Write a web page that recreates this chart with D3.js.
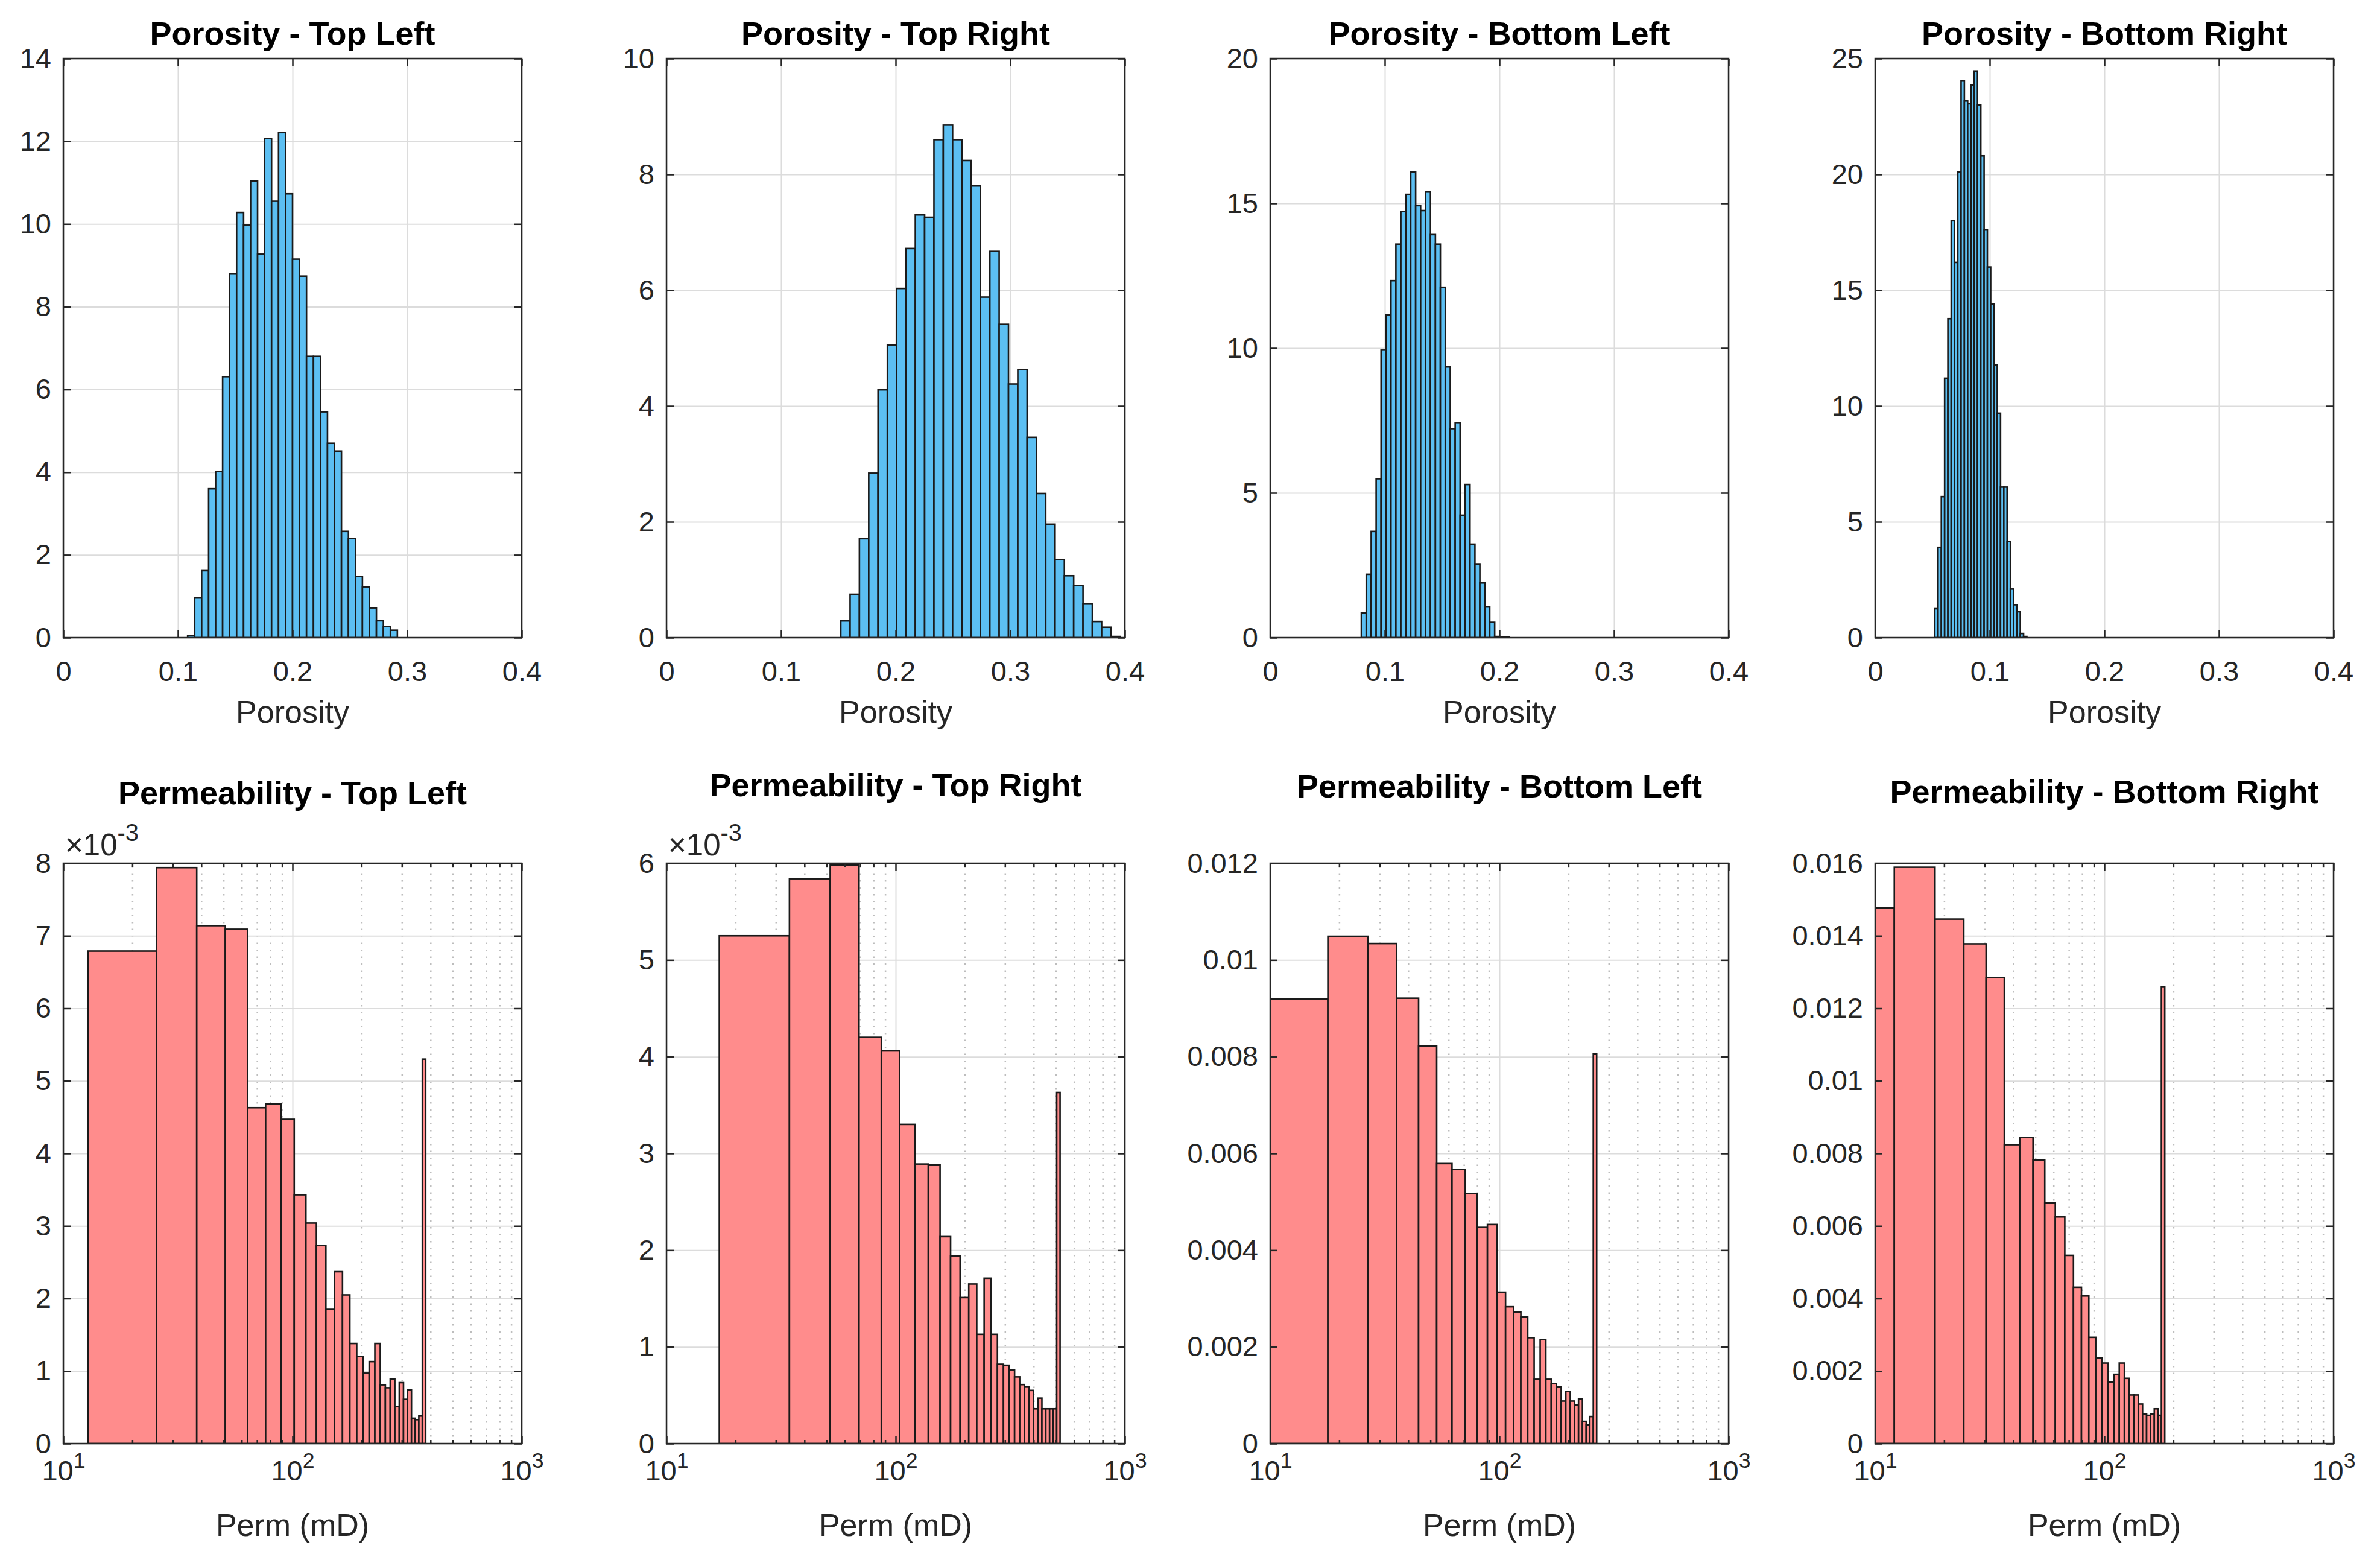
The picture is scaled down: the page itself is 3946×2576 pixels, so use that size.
<!DOCTYPE html>
<html>
<head>
<meta charset="utf-8">
<script src="https://d3js.org/d3.v7.min.js"></script>
<style>
body { margin: 0; background: #fff; }
text { font-family: "Liberation Sans", Arial, Helvetica, sans-serif; }
</style>
</head>
<body>
<svg id="chart"></svg>
<script>
// ---- porosity histograms (probability density)
var porosityTitles = ["Porosity - Top Left", "Porosity - Top Right", "Porosity - Bottom Left", "Porosity - Bottom Right"];
var porosityTopLeft = [0.05, 0.96, 1.62, 3.6, 4.02, 6.31, 8.79, 10.28, 9.97, 11.04, 9.27, 12.07, 10.55, 12.21, 10.73,
  9.15, 8.74, 6.8, 6.8, 5.46, 4.70, 4.51, 2.57, 2.40, 1.48, 1.23, 0.72, 0.41, 0.27, 0.18];
var porosityTopRight = [0.29, 0.75, 1.71, 2.84, 4.28, 5.05, 6.03, 6.72, 7.30, 7.26, 8.60, 8.85, 8.60, 8.24, 7.80,
  5.88, 6.67, 5.41, 4.38, 4.63, 3.46, 2.49, 1.96, 1.35, 1.07, 0.90, 0.58, 0.28, 0.18, 0.02];
var porosityBottomLeft = [0.86, 2.19, 3.67, 5.49, 9.93, 11.14, 12.33, 13.59, 14.72, 15.31, 16.09, 14.92, 14.75, 15.39, 13.92,
  13.59, 12.1, 9.35, 7.22, 7.41, 4.23, 5.29, 3.23, 2.53, 1.89, 1.06, 0.53, 0.04, 0.02, 0.02];
var porosityBottomRight = [1.25, 3.9, 6.09, 11.2, 13.77, 18.0, 16.2, 20.1, 24.03, 23.17, 23.05, 23.86, 24.46, 23.0,
  20.8, 17.6, 16.0, 14.4, 11.77, 9.69, 6.5, 6.5, 4.15, 2.1, 1.42, 1.12, 0.18, 0.05];
var porosityBinStart = [0.1085, 0.1521, 0.0795, 0.052];
var porosityBinWidth = [0.0061, 0.00813, 0.00431, 0.00287];
var porosityYMax = [14, 10, 20, 25];
var porosityYStep = [2, 2, 5, 5];
var porosityXTicks = [0, 0.1, 0.2, 0.3, 0.4];

// ---- permeability histograms (density in units of 1e-3, linear bins on a log axis)
var permTitles = ["Permeability - Top Left", "Permeability - Top Right", "Permeability - Bottom Left", "Permeability - Bottom Right"];
var permTopLeft = [6.79, 7.94, 7.14, 7.09, 4.63, 4.68, 4.47, 3.43, 3.04, 2.73, 1.85, 2.37, 2.05, 1.38, 1.2,
  0.97, 1.13, 1.38, 0.81, 0.77, 0.89, 0.51, 0.84, 0.61, 0.74, 0.35, 0.33, 0.38, 5.3];
var permTopRight = [5.25, 5.84, 5.98, 4.20, 4.06, 3.30, 2.89, 2.88, 2.14, 1.94, 1.51, 1.65, 1.13, 1.71, 1.13,
  0.82, 0.81, 0.76, 0.69, 0.61, 0.59, 0.55, 0.36, 0.47, 0.36, 0.36, 0.36, 0.36, 3.63];
var permBottomLeft = [9.19, 10.49, 10.34, 9.21, 8.22, 5.79, 5.67, 5.17, 4.47, 4.53, 3.13, 2.83, 2.72, 2.62, 2.19,
  1.33, 2.15, 1.33, 1.24, 1.17, 0.88, 1.08, 0.88, 0.80, 0.92, 0.46, 0.39, 0.56, 8.06];
var permBottomRight = [14.77, 15.89, 14.46, 13.78, 12.85, 8.24, 8.44, 7.82, 6.64, 6.25, 5.19, 4.31, 4.07, 2.93, 2.36,
  2.22, 1.70, 1.91, 2.22, 1.80, 1.34, 1.34, 1.09, 0.82, 0.78, 0.82, 0.96, 0.78, 12.6];
var permBinStart = [12.8, 17.0, 9.0, 6.0];
var permBinWidth = [12.7, 17.4, 8.85, 6.12];
var permYMax = [8, 6, 12, 16];
var permYStep = [1, 1, 2, 2];
var permShowExponent = [true, true, false, false];
var permXTicks = [10, 100, 1000];
var permMinorTicks = [20, 30, 40, 50, 60, 70, 80, 90, 200, 300, 400, 500, 600, 700, 800, 900];

var porosityValues = [porosityTopLeft, porosityTopRight, porosityBottomLeft, porosityBottomRight];
var permValues = [permTopLeft, permTopRight, permBottomLeft, permBottomRight];

// ---- layout
var W = 3946, H = 2576;
var colLeft = [105, 1105, 2106, 3109];
var plotW = 760;
var rowTop = [97, 1431];
var rowH = [960, 962];
var titleBase = [[74, 74, 74, 74], [1333, 1320, 1322, 1331]];
var xLabelBase = [1198, 2546];
var AX = "#262626";
var tickFont = 47, labelFont = 52, titleFont = 54;

var svg = d3.select("#chart").attr("width", W).attr("height", H);
svg.append("rect").attr("width", W).attr("height", H).attr("fill", "#fff");
var defs = svg.append("defs");

function styleAxis(sel) {
  sel.select(".domain").remove();
  sel.attr("font-size", tickFont).attr("font-family", null);
  sel.selectAll(".tick line").attr("stroke", AX).attr("stroke-width", 2.5);
  sel.selectAll(".tick text").attr("fill", AX);
}

function drawPanel(p) {
  var h = p.h;
  var g = svg.append("g").attr("transform", "translate(" + p.left + "," + p.top + ")");
  defs.append("clipPath").attr("id", "clip" + p.id)
    .append("rect").attr("width", plotW).attr("height", h);

  // grid
  g.append("g").attr("transform", "translate(0," + h + ")")
    .call(d3.axisBottom(p.x).tickValues(p.xTicks).tickSize(-h).tickFormat(""))
    .call(function(s) { s.select(".domain").remove(); })
    .selectAll("line").attr("stroke", "#dcdcdc").attr("stroke-width", 2);
  if (p.xMinor) {
    g.append("g").attr("transform", "translate(0," + h + ")")
      .call(d3.axisBottom(p.x).tickValues(p.xMinor).tickSize(-h).tickFormat(""))
      .call(function(s) { s.select(".domain").remove(); })
      .selectAll("line").attr("stroke", "#bdbdbd").attr("stroke-width", 2.5)
      .attr("stroke-dasharray", "2.5,9");
  }
  g.append("g")
    .call(d3.axisLeft(p.y).tickValues(p.yTicks).tickSize(-plotW).tickFormat(""))
    .call(function(s) { s.select(".domain").remove(); })
    .selectAll("line").attr("stroke", "#dcdcdc").attr("stroke-width", 2);

  // bars
  g.append("g").attr("clip-path", "url(#clip" + p.id + ")")
    .selectAll("rect").data(p.values).join("rect")
    .attr("x", function(d, i) { return p.x(p.start + i * p.width); })
    .attr("width", function(d, i) { return p.x(p.start + (i + 1) * p.width) - p.x(p.start + i * p.width); })
    .attr("y", function(d) { return p.y(d); })
    .attr("height", function(d) { return h - p.y(d); })
    .attr("fill", p.fill)
    .attr("stroke", "#1a1a1a")
    .attr("stroke-width", 2.6);

  // box
  g.append("rect").attr("width", plotW).attr("height", h)
    .attr("fill", "none").attr("stroke", AX).attr("stroke-width", 2.5);

  // axes (ticks drawn inward, like matlab)
  var bottom = g.append("g").attr("transform", "translate(0," + h + ")")
    .call(d3.axisBottom(p.x).tickValues(p.xTicks).tickSize(-12).tickPadding(p.xPad).tickFormat(p.xFormat));
  styleAxis(bottom);
  g.append("g").call(d3.axisTop(p.x).tickValues(p.xTicks).tickSize(-12).tickFormat("")).call(styleAxis);
  if (p.xMinor) {
    g.append("g").attr("transform", "translate(0," + h + ")")
      .call(d3.axisBottom(p.x).tickValues(p.xMinor).tickSize(-6).tickFormat("")).call(styleAxis);
    g.append("g").call(d3.axisTop(p.x).tickValues(p.xMinor).tickSize(-6).tickFormat("")).call(styleAxis);
  }
  g.append("g").call(d3.axisLeft(p.y).tickValues(p.yTicks).tickSize(-12).tickPadding(20).tickFormat(p.yFormat)).call(styleAxis);
  g.append("g").attr("transform", "translate(" + plotW + ",0)")
    .call(d3.axisRight(p.y).tickValues(p.yTicks).tickSize(-12).tickFormat("")).call(styleAxis);

  if (p.logLabels) {
    bottom.selectAll(".tick text").each(function(d) {
      var t = d3.select(this);
      t.text(null);
      t.append("tspan").text("10");
      t.append("tspan").attr("font-size", tickFont * 0.76).attr("dy", "-0.6em").text(Math.round(Math.log10(d)));
    });
  }

  if (p.exponent) {
    var ex = g.append("text").attr("x", 3).attr("y", -13).attr("font-size", 51).attr("fill", AX);
    ex.append("tspan").text("\u00d710");
    ex.append("tspan").attr("font-size", 51 * 0.78).attr("dy", "-0.6em").text("-3");
  }

  // title and x label
  svg.append("text").attr("x", p.left + plotW / 2).attr("y", p.titleY)
    .attr("text-anchor", "middle").attr("font-size", titleFont).attr("font-weight", "bold")
    .attr("fill", "#000").text(p.title);
  svg.append("text").attr("x", p.left + plotW / 2).attr("y", p.xLabelY)
    .attr("text-anchor", "middle").attr("font-size", labelFont).attr("fill", AX).text(p.xLabel);
}

var fmtG = d3.format("~g");

porosityValues.forEach(function(vals, i) {
  var h = rowH[0];
  drawPanel({
    id: "por" + i, left: colLeft[i], top: rowTop[0], h: h,
    x: d3.scaleLinear().domain([0, 0.4]).range([0, plotW]),
    y: d3.scaleLinear().domain([0, porosityYMax[i]]).range([h, 0]),
    xTicks: porosityXTicks,
    yTicks: d3.range(0, porosityYMax[i] + porosityYStep[i] / 2, porosityYStep[i]),
    xFormat: fmtG, yFormat: fmtG, xPad: 39,
    values: vals, start: porosityBinStart[i], width: porosityBinWidth[i],
    fill: "#5cbff2",
    title: porosityTitles[i], titleY: titleBase[0][i],
    xLabel: "Porosity", xLabelY: xLabelBase[0]
  });
});

permValues.forEach(function(vals, i) {
  var h = rowH[1];
  var showExp = permShowExponent[i];
  drawPanel({
    id: "perm" + i, left: colLeft[i], top: rowTop[1], h: h,
    x: d3.scaleLog().domain([10, 1000]).range([0, plotW]),
    y: d3.scaleLinear().domain([0, permYMax[i]]).range([h, 0]),
    xTicks: permXTicks, xMinor: permMinorTicks,
    yTicks: d3.range(0, permYMax[i] + permYStep[i] / 2, permYStep[i]),
    xFormat: function(d) { return d; }, xPad: 28, logLabels: true,
    yFormat: showExp ? function(d) { return fmtG(d); } : function(d) { return fmtG(+(d * 1e-3).toPrecision(6)); },
    exponent: showExp,
    values: vals, start: permBinStart[i], width: permBinWidth[i],
    fill: "#ff8c8c",
    title: permTitles[i], titleY: titleBase[1][i],
    xLabel: "Perm (mD)", xLabelY: xLabelBase[1]
  });
});
</script>
</body>
</html>
